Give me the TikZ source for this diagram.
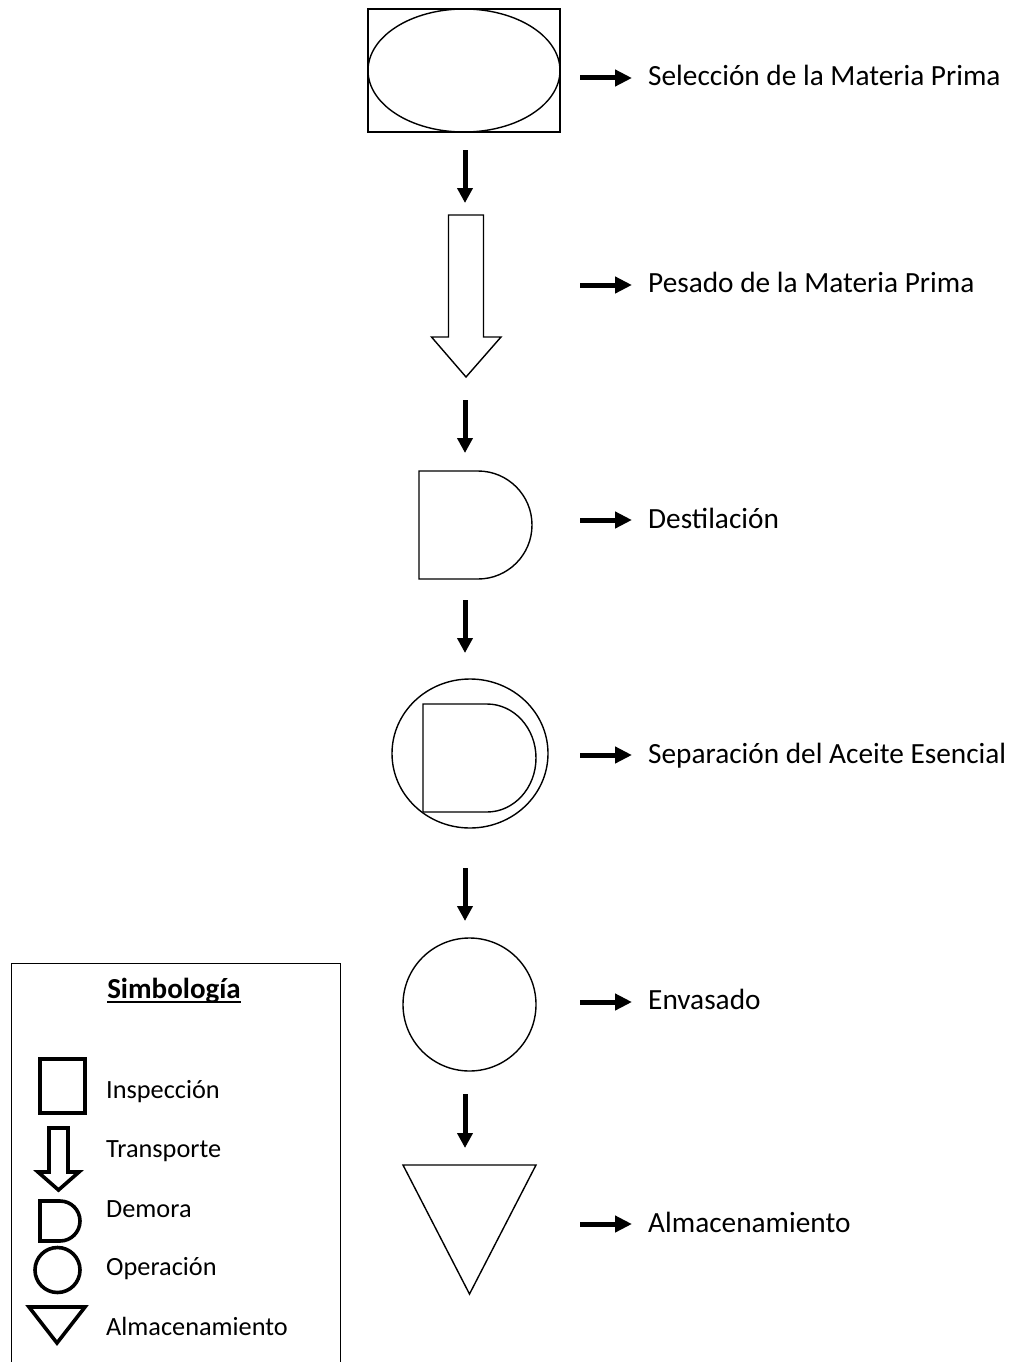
\documentclass[tikz,border=0pt]{standalone}
\usepackage{fontspec}
\setmainfont{Carlito}
\usetikzlibrary{arrows.meta,shapes.geometric}

\begin{document}
\begin{tikzpicture}[x=1pt,y=-1pt,
  thinline/.style={draw=black,line width=1.4pt},
  boldline/.style={draw=black,line width=3.6pt,line join=miter},
  darr/.style={draw=black,line width=5pt,-{Triangle[length=15pt,width=15pt]}},
  rarr/.style={draw=black,line width=5pt,-{Triangle[length=17pt,width=16pt]}},
  lbl/.style={anchor=base west,inner sep=0pt,font=\fontsize{29.3}{34}\selectfont},
  leglbl/.style={anchor=base west,inner sep=0pt,font=\fontsize{26.3}{31}\selectfont}]
\useasboundingbox (0,0) rectangle (1014,1362);
\fill[white] (0,0) rectangle (1014,1362);

% ---- process symbols ----
\node[thinline,rectangle,minimum width=192pt,minimum height=123pt,inner sep=0pt] (sel) at (464,70.5) {};
\node[thinline,ellipse,minimum width=192pt,minimum height=123pt,inner sep=0pt] (selin) at (464,70.5) {};

\coordinate (trans) at (466,215);
\draw[thinline,line join=miter] (trans) -- ++(-17.5,0) -- ++(0,122) -- ++(-17,0)
  -- (466,377) -- (501,337) -- (483.5,337) -- (483.5,215) -- cycle;

\coordinate (dest) at (419,471);
\draw[thinline] (dest) -- (478,471) arc[start angle=90,end angle=-90,radius=54pt]
  -- (419,579) -- cycle;

\node[thinline,ellipse,minimum width=156pt,minimum height=149pt,inner sep=0pt] (sep) at (470,753.5) {};
\coordinate (sepin) at (423,704);
\draw[thinline] (sepin) -- (487,704) arc[start angle=90,end angle=-90,x radius=49pt,y radius=54pt]
  -- (423,812) -- cycle;

\node[thinline,circle,minimum size=133pt,inner sep=0pt] (env) at (469.5,1004.5) {};

\coordinate (alm) at (469.5,1294);
\draw[thinline] (403,1165) -- (536,1165) -- (alm) -- cycle;

% ---- flow arrows between symbols ----
\coordinate (d1s) at (465,150);  \coordinate (d1e) at (465,203);
\coordinate (d2s) at (465,400);  \coordinate (d2e) at (465,453);
\coordinate (d3s) at (465,600);  \coordinate (d3e) at (465,653);
\coordinate (d4s) at (465,868);  \coordinate (d4e) at (465,921);
\coordinate (d5s) at (465,1094); \coordinate (d5e) at (465,1148);
\foreach \i in {1,...,5} \draw[darr] (d\i s) -- (d\i e);

% ---- step labels ----
\node[lbl] (t1) at (648,86)   {Selección de la Materia Prima};
\node[lbl] (t2) at (648,292)  {Pesado de la Materia Prima};
\node[lbl] (t3) at (648,528)  {Destilación};
\node[lbl] (t4) at (648,763)  {Separación del Aceite Esencial};
\node[lbl] (t5) at (648,1009) {Envasado};
\node[lbl] (t6) at (648,1232) {Almacenamiento};

\foreach \i/\y in {1/78,2/285,3/520,4/755,5/1002,6/1224}{
  \coordinate (r\i s) at (580,\y);
  \coordinate (r\i e) at (632,\y);
  \draw[rarr] (r\i s) -- (r\i e);
}

% ---- legend ----
\node[thinline,rectangle,minimum width=329pt,minimum height=412pt,inner sep=0pt,anchor=north west] (legend) at (11,963) {};
\node[anchor=base,inner sep=0pt,font=\fontsize{29}{34}\selectfont\bfseries] (ltitle) at (174,998) {Simbología};
\draw[line width=2pt] ([yshift=-4pt]ltitle.base west) -- ([yshift=-4pt]ltitle.base east);

\node[boldline,rectangle,minimum width=45pt,minimum height=54pt,inner sep=0pt] (lsq) at (62.5,1086) {};
\node[leglbl] at (106,1098) {Inspección};

\coordinate (ltr) at (49,1128);
\draw[boldline] (ltr) -- (68,1128) -- (68,1172) -- (79,1172) -- (58.5,1190) -- (38,1172) -- (49,1172) -- cycle;
\node[leglbl] at (106,1157) {Transporte};

\coordinate (ld) at (40,1201);
\draw[boldline] (ld) -- (60,1201) arc[start angle=90,end angle=-90,radius=20pt] -- (40,1241) -- cycle;
\node[leglbl] at (106,1217) {Demora};

\node[boldline,circle,minimum size=45pt,inner sep=0pt] (lop) at (57.5,1270) {};
\node[leglbl] at (106,1275) {Operación};

\coordinate (lal) at (57,1343);
\draw[boldline] (29,1307) -- (85,1307) -- (lal) -- cycle;
\node[leglbl] at (106,1335) {Almacenamiento};
\end{tikzpicture}
\end{document}
